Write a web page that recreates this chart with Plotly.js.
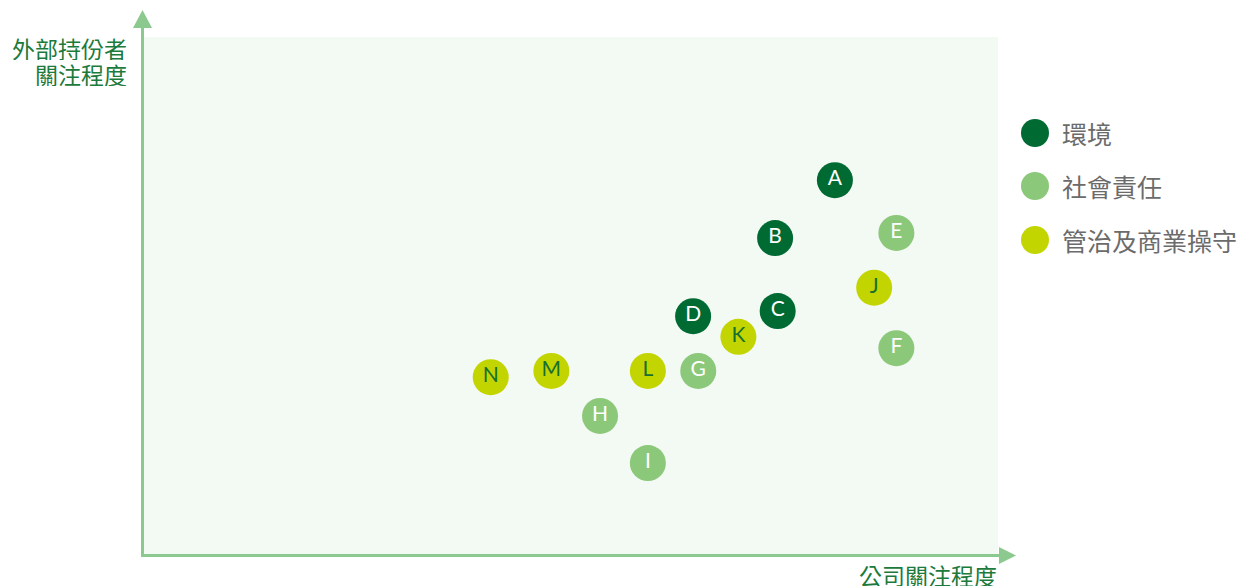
<!DOCTYPE html>
<html>
<head>
<meta charset="utf-8">
<script src="https://cdn.plot.ly/plotly-3.0.1.min.js"></script>
<style>html,body{margin:0;padding:0;background:#fff;}#chart{width:1251px;height:587px;}</style>
</head>
<body>
<div id="chart"></div>
<script>
// Data
const categories = ["環境", "社會責任", "管治及商業操守"];
const categoryColors = ["#006a33", "#8bc87a", "#c3d500"];
const labelColors = ["#ffffff", "#ffffff", "#17702f"];

const topicLabels = ["A","B","C","D","E","F","G","H","I","J","K","L","M","N"];
const companyConcern = [8.09, 7.39, 7.42, 6.43, 8.81, 8.81, 6.49, 5.34, 5.90, 8.55, 6.96, 5.90, 4.77, 4.06];
const stakeholderConcern = [7.23, 6.11, 4.70, 4.60, 6.21, 3.98, 3.54, 2.67, 1.76, 5.15, 4.20, 3.54, 3.54, 3.42];
const topicCategory = [0,0,0,0,1,1,1,1,1,2,2,2,2,2];

const xTitle = "公司關注程度";
const yTitleLines = ["外部持份者", "關注程度"];

const traces = categories.map((cat, ci) => {
  const idx = topicCategory.map((c, i) => c === ci ? i : -1).filter(i => i >= 0);
  return {
    type: "scatter",
    mode: "markers+text",
    name: cat,
    x: idx.map(i => companyConcern[i]),
    y: idx.map(i => stakeholderConcern[i]),
    text: idx.map(i => topicLabels[i]),
    textposition: "middle center",
    textfont: {family: "Lato, 'Noto Sans', sans-serif", size: 21, color: labelColors[ci]},
    marker: {size: 36, color: categoryColors[ci], line: {width: 0}},
    showlegend: false,
    hoverinfo: "skip",
    cliponaxis: false
  };
});

const axisColor = "#8cc98e";
const W = 854, H = 517, L0 = 144, T0 = 37;
const px = v => (v - L0) / W;
const py = v => (T0 + H - v) / H;
const cjk = "'Noto Sans CJK TC', 'Noto Sans CJK SC', sans-serif";

const shapes = [
  // y axis line
  {type: "line", xref: "paper", yref: "paper", x0: px(142.5), x1: px(142.5), y0: py(557), y1: py(26), line: {color: axisColor, width: 3}},
  // x axis line
  {type: "line", xref: "paper", yref: "paper", x0: px(141), x1: px(1001), y0: py(555.5), y1: py(555.5), line: {color: axisColor, width: 3}},
  // y arrow head
  {type: "path", xref: "paper", yref: "paper", xsizemode: "pixel", ysizemode: "pixel", xanchor: px(142.5), yanchor: py(10),
   path: "M 0 0 L -9.5 -18 L 9.5 -18 Z", fillcolor: axisColor, line: {width: 0}},
  // x arrow head
  {type: "path", xref: "paper", yref: "paper", xsizemode: "pixel", ysizemode: "pixel", xanchor: px(1016), yanchor: py(555.5),
   path: "M 0 0 L -17 8.5 L -17 -8.5 Z", fillcolor: axisColor, line: {width: 0}}
];

const annotations = [];
const yTitleCenters = [48, 74];
yTitleLines.forEach((t, i) => {
  annotations.push({xref: "paper", yref: "paper", x: px(129), y: py(yTitleCenters[i]), xanchor: "right", yanchor: "middle",
    height: 24, text: t, showarrow: false, font: {family: cjk, size: 23, color: "#1b7a3c"}});
});
annotations.push({xref: "paper", yref: "paper", x: px(999), y: py(575), xanchor: "right", yanchor: "middle",
  height: 22, text: xTitle, showarrow: false, font: {family: cjk, size: 23, color: "#1b7a3c"}});

// manual legend
const legendY = [133, 186, 240];
categories.forEach((cat, ci) => {
  shapes.push({type: "circle", xref: "paper", yref: "paper", xsizemode: "pixel", ysizemode: "pixel",
    xanchor: px(1035), yanchor: py(legendY[ci]), x0: -14, x1: 14, y0: -14, y1: 14,
    fillcolor: categoryColors[ci], line: {width: 0}});
  annotations.push({xref: "paper", yref: "paper", x: px(1060), y: py(legendY[ci]), xanchor: "left", yanchor: "middle",
    text: cat, showarrow: false, font: {family: cjk, size: 25, color: "#6b6b6b"}});
});

const layout = {
  width: 1251, height: 587,
  margin: {l: L0, r: 1251 - L0 - W, t: T0, b: 587 - T0 - H, pad: 0},
  paper_bgcolor: "#ffffff",
  plot_bgcolor: "#f3f9f3",
  xaxis: {range: [0, 10], visible: false, fixedrange: true},
  yaxis: {range: [0, 10], visible: false, fixedrange: true},
  shapes: shapes,
  annotations: annotations,
  showlegend: false,
  hovermode: false
};

Plotly.newPlot("chart", traces, layout, {displayModeBar: false, staticPlot: true});
</script>
</body>
</html>
